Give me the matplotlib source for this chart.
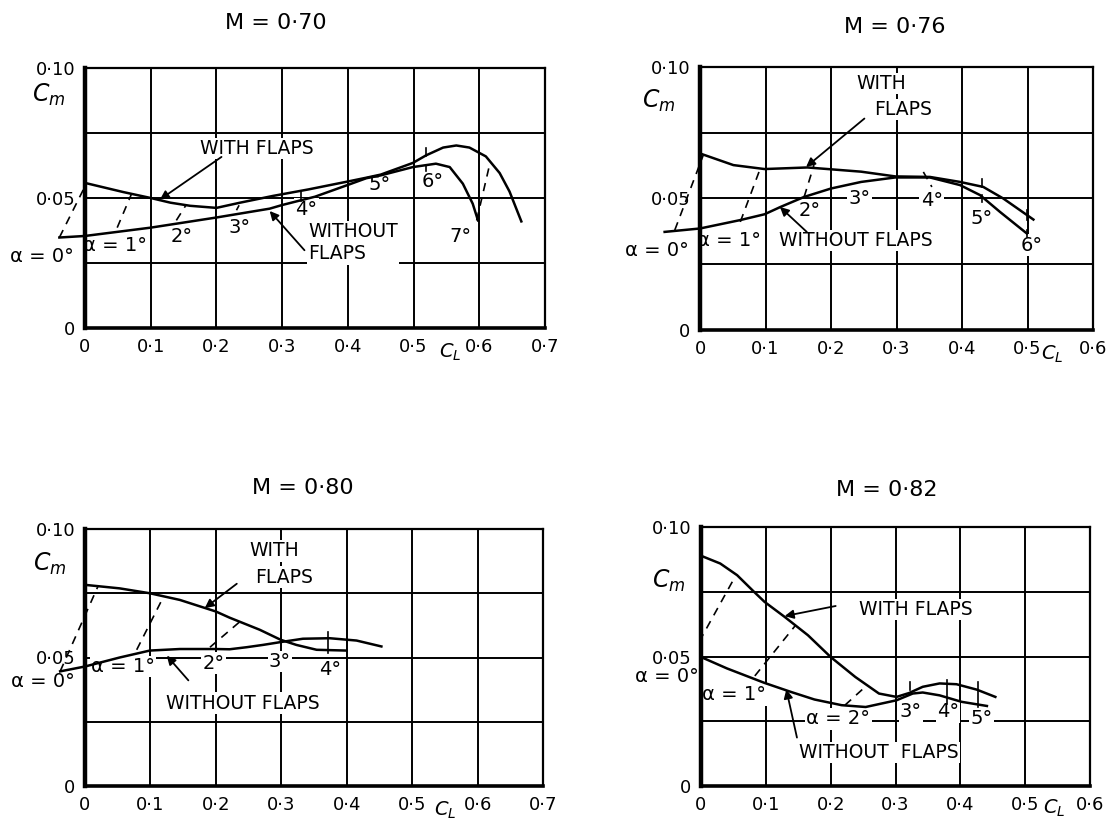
import matplotlib
matplotlib.use("Agg")
import matplotlib.pyplot as plt

plt.rcParams['font.family'] = ['DejaVu Sans']
plt.rcParams['mathtext.fontset'] = 'dejavusans'

# ------------------------------------------------------------------ data
titles = ["M = 0·70", "M = 0·76", "M = 0·80", "M = 0·82"]
x_limits = [0.7, 0.6, 0.7, 0.6]
x_ticks_07 = [0, 0.1, 0.2, 0.3, 0.4, 0.5, 0.6, 0.7]
x_tick_labels_07 = ["0", "0·1", "0·2", "0·3", "0·4", "0·5", "0·6", "0·7"]
y_ticks = [0, 0.05, 0.10]
y_tick_labels = ["0", "0·05", "0·10"]
y_grid = [0.025, 0.05, 0.075]

# M = 0.70
m70_cl_with = [0.0, 0.058, 0.10, 0.13, 0.16, 0.20, 0.236, 0.286, 0.34, 0.403, 0.428, 0.45,
               0.499, 0.519, 0.545, 0.565, 0.585, 0.61, 0.631, 0.646, 0.664]
m70_cm_with = [0.0558, 0.0523, 0.0500, 0.0482, 0.0470, 0.0462, 0.0482, 0.0508, 0.0533, 0.0565,
               0.0578, 0.0590, 0.0635, 0.0664, 0.0694, 0.0702, 0.0694, 0.0660, 0.0596, 0.0525, 0.0410]
m70_cl_without = [-0.039, 0.0, 0.10, 0.20, 0.281, 0.30, 0.35, 0.403, 0.428, 0.45, 0.499,
                  0.534, 0.555, 0.575, 0.59, 0.598]
m70_cm_without = [0.0348, 0.0354, 0.0386, 0.0425, 0.0459, 0.0473, 0.0505, 0.0553, 0.0576, 0.0587,
                  0.0619, 0.0632, 0.0619, 0.0555, 0.0478, 0.0414]
m70_alpha_cl = [[-0.039, 0.0026], [0.049, 0.071], [0.139, 0.1535], [0.2305, 0.2345], [0.596, 0.6155]]
m70_alpha_cm = [[0.0348, 0.0558], [0.0386, 0.0517], [0.0414, 0.0472], [0.0453, 0.0472], [0.0414, 0.0626]]
m70_tick_cl = [[0.328, 0.328], [0.519, 0.519], [0.519, 0.519]]
m70_tick_cm = [[0.0490, 0.0522], [0.0660, 0.0692], [0.0604, 0.0626]]

# M = 0.76
m76_cl_with = [0.0026, 0.051, 0.0985, 0.164, 0.20, 0.246, 0.298, 0.351, 0.397, 0.4325, 0.463, 0.509]
m76_cm_with = [0.0669, 0.0627, 0.0612, 0.0618, 0.0611, 0.0602, 0.0584, 0.0582, 0.0563, 0.0544, 0.0500, 0.0420]
m76_cl_without = [-0.054, 0.0, 0.0615, 0.0985, 0.123, 0.159, 0.20, 0.246, 0.298, 0.351, 0.397,
                  0.4275, 0.458, 0.499]
m76_cm_without = [0.0373, 0.0386, 0.0418, 0.0440, 0.0468, 0.0506, 0.0538, 0.0563, 0.0580, 0.0580,
                  0.0551, 0.0513, 0.0449, 0.0367]
m76_alpha_cl = [[-0.0385, 0.005], [0.0615, 0.092], [0.159, 0.174], [0.341, 0.354]]
m76_alpha_cm = [[0.0380, 0.0665], [0.0411, 0.0614], [0.0506, 0.0627], [0.0601, 0.0544]]
m76_tick_cl = [[0.43, 0.43], [0.43, 0.43], [0.499, 0.499], [0.499, 0.499]]
m76_tick_cm = [[0.0544, 0.0576], [0.0487, 0.0513], [0.0418, 0.0456], [0.0354, 0.0380]]

# M = 0.80
m80_cl_with = [0.0026, 0.053, 0.099, 0.145, 0.20, 0.221, 0.267, 0.299, 0.323, 0.354, 0.3995]
m80_cm_with = [0.0782, 0.0769, 0.0750, 0.0724, 0.0679, 0.0655, 0.0608, 0.0569, 0.0549, 0.0530, 0.0527]
m80_cl_without = [-0.038, 0.0, 0.053, 0.099, 0.145, 0.20, 0.221, 0.247, 0.272, 0.299, 0.333,
                  0.374, 0.415, 0.453]
m80_cm_without = [0.0446, 0.0465, 0.0500, 0.0527, 0.0533, 0.0533, 0.0532, 0.0540, 0.0549, 0.0560,
                  0.0573, 0.0575, 0.0566, 0.0543]
m80_alpha_cl = [[-0.038, 0.02], [0.079, 0.1195], [0.191, 0.237]]
m80_alpha_cm = [[0.0446, 0.0778], [0.0530, 0.0734], [0.0540, 0.0640]]
m80_tick_cl = [[0.372, 0.372]]
m80_tick_cm = [[0.0517, 0.0600]]

# M = 0.82
m82_cl_with = [0.001, 0.0297, 0.0557, 0.0817, 0.098, 0.129, 0.165, 0.20, 0.238, 0.2745, 0.3016,
               0.321, 0.342, 0.368, 0.394, 0.4255, 0.454]
m82_cm_with = [0.0888, 0.0859, 0.0814, 0.0750, 0.0711, 0.0653, 0.0582, 0.0498, 0.0421, 0.0357,
               0.0344, 0.0359, 0.0383, 0.0396, 0.0393, 0.0372, 0.0344]
m82_cl_without = [0.0, 0.04, 0.098, 0.139, 0.175, 0.217, 0.254, 0.3016, 0.3266, 0.342, 0.368,
                  0.402, 0.441]
m82_cm_without = [0.0498, 0.0454, 0.0398, 0.0363, 0.0334, 0.0312, 0.0305, 0.0331, 0.0357, 0.0361,
                  0.0350, 0.0325, 0.0309]
m82_alpha_cl = [[0.0, 0.0, 0.053], [0.083, 0.145], [0.222, 0.256]]
m82_alpha_cm = [[0.0498, 0.057, 0.081], [0.0425, 0.0618], [0.0312, 0.0389]]
m82_tick_cl = [[0.322, 0.322], [0.38, 0.38], [0.428, 0.428]]
m82_tick_cm = [[0.0372, 0.0400], [0.0318, 0.0408], [0.0305, 0.0402]]

# ------------------------------------------------------------------ layout
W, H = 1116, 824
axes_px = [  # left, top, right, bottom in pixels
    (85, 68, 545, 328),
    (700, 67, 1093, 330),
    (85, 529, 543, 786),
    (701, 527, 1090, 786),
]
title_pos = [(0.414, 1.172), (0.495, 1.152), (0.475, 1.158), (0.478, 1.143)]
cm_pos = [(-0.078, 0.895), (-0.104, 0.873), (-0.076, 0.864), (-0.084, 0.79)]
cl_pos = [(0.793, -0.095), (0.896, -0.093), (0.787, -0.096), (0.908, -0.088)]

curves = [
    (m70_cl_with, m70_cm_with, m70_cl_without, m70_cm_without, m70_alpha_cl, m70_alpha_cm, m70_tick_cl, m70_tick_cm),
    (m76_cl_with, m76_cm_with, m76_cl_without, m76_cm_without, m76_alpha_cl, m76_alpha_cm, m76_tick_cl, m76_tick_cm),
    (m80_cl_with, m80_cm_with, m80_cl_without, m80_cm_without, m80_alpha_cl, m80_alpha_cm, m80_tick_cl, m80_tick_cm),
    (m82_cl_with, m82_cm_with, m82_cl_without, m82_cm_without, m82_alpha_cl, m82_alpha_cm, m82_tick_cl, m82_tick_cm),
]

# labels (text, x, y) and arrows (tail, tip) in data coords
labels = [
    [("WITH FLAPS", 0.262, 0.0690), ("WITHOUT\nFLAPS", 0.408, 0.0328),
     ("α = 0°", -0.066, 0.0274), ("α = 1°", 0.045, 0.0318),
     ("2°", 0.147, 0.0350), ("3°", 0.2355, 0.0385),
     ("4°", 0.337, 0.0457), ("5°", 0.448, 0.0552),
     ("6°", 0.529, 0.0562), ("7°", 0.572, 0.0350)],
    [("WITH", 0.2766, 0.0937), ("FLAPS", 0.3106, 0.0838),
     ("WITHOUT FLAPS", 0.2375, 0.0341),
     ("α = 0°", -0.065, 0.0304), ("α = 1°", 0.045, 0.0341),
     ("2°", 0.168, 0.0456), ("3°", 0.244, 0.0500),
     ("4°", 0.354, 0.0494), ("5°", 0.430, 0.0424),
     ("6°", 0.506, 0.0322)],
    [("WITH", 0.290, 0.0915), ("FLAPS", 0.305, 0.0813),
     ("WITHOUT FLAPS", 0.2416, 0.0322),
     ("α = 0°", -0.064, 0.0405), ("α = 1°", 0.058, 0.0465),
     ("2°", 0.196, 0.0478), ("3°", 0.298, 0.0484),
     ("4°", 0.374, 0.0452)],
    [("WITH FLAPS", 0.331, 0.0682), ("WITHOUT  FLAPS", 0.274, 0.0129),
     ("α = 0°", -0.053, 0.0423), ("α = 1°", 0.051, 0.0352),
     ("α = 2°", 0.212, 0.0260), ("3°", 0.324, 0.0286),
     ("4°", 0.381, 0.0286), ("5°", 0.433, 0.0260)],
]
arrows = [
    [((0.2077, 0.0658), (0.114, 0.0494)), ((0.334, 0.0299), (0.281, 0.0450))],
    [((0.251, 0.0804), (0.162, 0.0620)), ((0.163, 0.0373), (0.122, 0.0468))],
    [((0.232, 0.0787), (0.183, 0.0692)), ((0.158, 0.0411), (0.125, 0.0507))],
    [((0.2077, 0.0695), (0.129, 0.0656)), ((0.148, 0.0187), (0.1316, 0.0373))],
]

fig = plt.figure(figsize=(W / 100, H / 100), dpi=100)
fig.patch.set_facecolor('white')

for i in range(4):
    l, t, r, b = axes_px[i]
    ax = fig.add_axes([l / W, 1 - b / H, (r - l) / W, (b - t) / H])
    xm = x_limits[i]
    n = int(round(xm * 10)) + 1
    ax.set_xlim(0, xm)
    ax.set_ylim(0, 0.10)
    ax.set_xticks(x_ticks_07[:n])
    ax.set_xticklabels(x_tick_labels_07[:n], fontsize=13)
    ax.set_yticks(y_ticks)
    ax.set_yticklabels(y_tick_labels, fontsize=13)
    ax.tick_params(length=0, pad=7)
    for xv in x_ticks_07[1:n - 1]:
        ax.axvline(xv, color='black', lw=1.4, zorder=1)
    for yv in y_grid:
        ax.axhline(yv, color='black', lw=1.4, zorder=1)
    ax.spines['left'].set_linewidth(3.2)
    ax.spines['bottom'].set_linewidth(2.6)
    ax.spines['top'].set_linewidth(1.6)
    ax.spines['right'].set_linewidth(1.6)
    for s in ax.spines.values():
        s.set_zorder(7)

    cw, yw, cwo, ywo, acl, acm, tcl, tcm = curves[i]
    ax.plot(cw, yw, color='black', lw=1.8, zorder=5, clip_on=False, solid_joinstyle='round')
    ax.plot(cwo, ywo, color='black', lw=1.8, zorder=5, clip_on=False, solid_joinstyle='round')
    for xs, ys in zip(acl, acm):
        ax.plot(xs, ys, color='black', lw=1.2, ls=(0, (5, 4)), zorder=5, clip_on=False)
    for xs, ys in zip(tcl, tcm):
        ax.plot(xs, ys, color='black', lw=1.2, zorder=5, clip_on=False)

    for txt, x, y in labels[i]:
        fs = 14 if ('°' in txt) else 13.5
        ax.text(x, y, txt, fontsize=fs, ha='center', va='center', multialignment='left', zorder=4,
                bbox=dict(facecolor='white', edgecolor='none', pad=1.0))
    for tail, tip in arrows[i]:
        ax.annotate('', xy=tip, xytext=tail,
                    arrowprops=dict(arrowstyle='-|>', color='black', lw=1.3,
                                    mutation_scale=13, shrinkA=0, shrinkB=0), zorder=6)

    ax.text(*title_pos[i], titles[i], transform=ax.transAxes, ha='center', va='center', fontsize=16)
    ax.text(*cm_pos[i], r"$C_m$", transform=ax.transAxes, ha='center', va='center', fontsize=17)
    ax.text(*cl_pos[i], r"$C_L$", transform=ax.transAxes, ha='center', va='center', fontsize=14)

fig.savefig("out.png", dpi=100, facecolor='white')
